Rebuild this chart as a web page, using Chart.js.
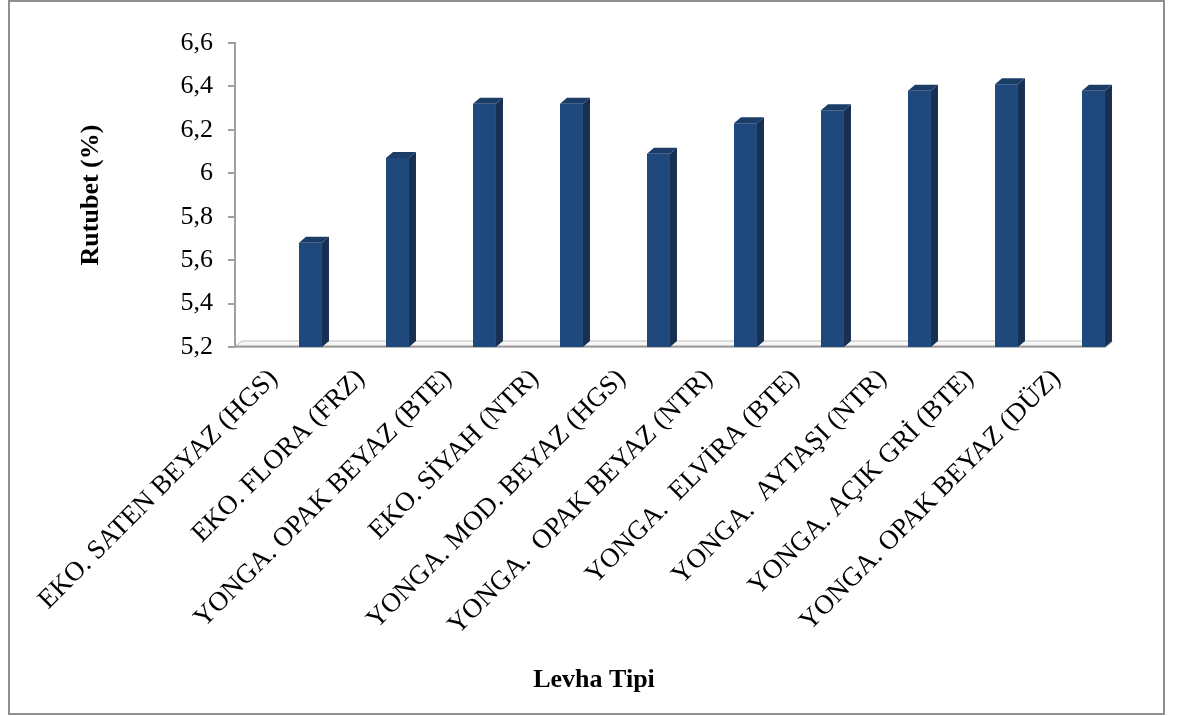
<!DOCTYPE html>
<html lang="tr">
<head>
    <meta charset="UTF-8">
    <title>Levha Tipine Göre Rutubet</title>
    <script src="https://cdn.jsdelivr.net/npm/chart.js"></script>
    <style>
        body {
            margin: 0;
            background: #fff;
        }
        #grafikKutusu {
            width: 1181px;
            height: 716px;
        }
    </style>
</head>
<body>
    <div id="grafikKutusu">
        <canvas id="rutubetGrafik" width="1181" height="716"></canvas>
    </div>

    <script>
        const levhaTipleri = [
            'EKO. SATEN BEYAZ (HGS)',
            'EKO. FLORA (FRZ)',
            'YONGA. OPAK BEYAZ (BTE)',
            'EKO. SİYAH (NTR)',
            'YONGA. MOD. BEYAZ (HGS)',
            'YONGA.  OPAK BEYAZ (NTR)',
            'YONGA.  ELVİRA (BTE)',
            'YONGA.  AYTAŞI (NTR)',
            'YONGA. AÇIK GRİ (BTE)',
            'YONGA. OPAK BEYAZ (DÜZ)'
        ];

        // rutubet (%) değerleri
        const rutubet = [5.68, 6.07, 6.32, 6.32, 6.09, 6.23, 6.29, 6.38, 6.41, 6.38];

        // Excel'deki boş ilk seri: kümede yer tutar, çubuk çizmez
        const bosSeri = [null, null, null, null, null, null, null, null, null, null];

        const eksenMin = 5.2;
        const eksenMax = 6.6;
        const eksenAdim = 0.2;

        const yaziTipi = "'Liberation Serif', 'Times New Roman', serif";
        const onRenk = '#1f497d';
        const yanRenk = '#172f52';
        const ustRenk = '#1b3d68';
        const derinlikX = 7;
        const derinlikY = 6;

        // çerçeve ve arka plan
        const cerceve = {
            id: 'cerceve',
            beforeDraw(chart) {
                const ctx = chart.ctx;
                ctx.save();
                ctx.fillStyle = '#fff';
                ctx.fillRect(0, 0, chart.width, chart.height);
                ctx.strokeStyle = '#8f8f8f';
                ctx.lineWidth = 2;
                ctx.strokeRect(9, 1, 1155, 713);
                ctx.restore();
            }
        };

        // 3B taban
        const taban = {
            id: 'taban',
            beforeDatasetsDraw(chart) {
                const ctx = chart.ctx;
                const area = chart.chartArea;
                const y0 = chart.scales.y.getPixelForValue(eksenMin);
                ctx.save();
                ctx.beginPath();
                ctx.moveTo(area.left, y0);
                ctx.lineTo(area.right, y0);
                ctx.lineTo(area.right + derinlikX, y0 - derinlikY);
                ctx.lineTo(area.left + derinlikX, y0 - derinlikY);
                ctx.closePath();
                ctx.fillStyle = '#f7f7f7';
                ctx.fill();
                ctx.strokeStyle = '#bdbdbd';
                ctx.lineWidth = 1;
                ctx.stroke();
                ctx.beginPath();
                ctx.moveTo(area.left, y0 - 0.5);
                ctx.lineTo(area.right, y0 - 0.5);
                ctx.lineTo(area.right + derinlikX, y0 - derinlikY);
                ctx.strokeStyle = '#9a9a9a';
                ctx.lineWidth = 2;
                ctx.stroke();
                ctx.restore();
            }
        };

        // çubukların yan ve üst yüzleri
        const ucBoyut = {
            id: 'ucBoyut',
            afterDatasetsDraw(chart) {
                const ctx = chart.ctx;
                const meta = chart.getDatasetMeta(1);
                const alt = chart.scales.y.getPixelForValue(eksenMin);
                ctx.save();
                meta.data.forEach(cubuk => {
                    const sol = cubuk.x - cubuk.width / 2;
                    const sag = cubuk.x + cubuk.width / 2;
                    const ust = cubuk.y;

                    ctx.beginPath();
                    ctx.moveTo(sag, ust);
                    ctx.lineTo(sag + derinlikX, ust - derinlikY);
                    ctx.lineTo(sag + derinlikX, alt - derinlikY);
                    ctx.lineTo(sag, alt);
                    ctx.closePath();
                    ctx.fillStyle = yanRenk;
                    ctx.fill();

                    ctx.beginPath();
                    ctx.moveTo(sol, ust);
                    ctx.lineTo(sol + derinlikX, ust - derinlikY);
                    ctx.lineTo(sag + derinlikX, ust - derinlikY);
                    ctx.lineTo(sag, ust);
                    ctx.closePath();
                    ctx.fillStyle = ustRenk;
                    ctx.fill();
                });
                ctx.restore();
            }
        };

        // yatay eksen başlığı
        const eksenBasligi = {
            id: 'eksenBasligi',
            afterDraw(chart) {
                const ctx = chart.ctx;
                ctx.save();
                ctx.font = 'bold 26px ' + yaziTipi;
                ctx.fillStyle = '#000';
                ctx.textAlign = 'center';
                ctx.textBaseline = 'middle';
                ctx.fillText('Levha Tipi', 594, 680);
                ctx.restore();
            }
        };

        const ctx = document.getElementById('rutubetGrafik').getContext('2d');

        const chart = new Chart(ctx, {
            type: 'bar',
            data: {
                labels: levhaTipleri,
                datasets: [
                    {
                        label: '',
                        data: bosSeri,
                        backgroundColor: onRenk
                    },
                    {
                        label: 'Rutubet (%)',
                        data: rutubet,
                        backgroundColor: onRenk,
                        borderWidth: 0
                    }
                ]
            },
            options: {
                responsive: false,
                animation: false,
                categoryPercentage: 1.471,
                barPercentage: 0.359,
                layout: {
                    padding: { left: 8, right: 76, top: 43, bottom: 4 }
                },
                scales: {
                    x: {
                        grid: { display: false, drawTicks: false },
                        border: { display: false },
                        ticks: {
                            autoSkip: false,
                            minRotation: 45,
                            maxRotation: 45,
                            padding: 16,
                            labelOffset: -5,
                            color: '#000',
                            font: { family: yaziTipi, size: 27 }
                        },
                        afterFit(scale) {
                            scale.height = 365;
                            scale.paddingLeft = 0;
                            scale.paddingRight = 0;
                        }
                    },
                    y: {
                        min: eksenMin,
                        max: eksenMax,
                        grid: {
                            drawOnChartArea: false,
                            drawTicks: true,
                            tickLength: 7,
                            color: '#a0a0a0',
                            lineWidth: 2
                        },
                        border: { display: true, color: '#a0a0a0', width: 2 },
                        ticks: {
                            stepSize: eksenAdim,
                            padding: 15,
                            color: '#000',
                            font: { family: yaziTipi, size: 26 },
                            callback: value => String(Math.round(value * 10) / 10).replace('.', ',')
                        },
                        title: {
                            display: true,
                            text: 'Rutubet (%)',
                            color: '#000',
                            font: { family: yaziTipi, size: 26, weight: 'bold' },
                            padding: { top: 68 }
                        },
                        afterFit(scale) {
                            scale.width = 227;
                        }
                    }
                },
                plugins: {
                    legend: { display: false },
                    tooltip: { enabled: false }
                }
            },
            plugins: [cerceve, taban, ucBoyut, eksenBasligi]
        });
    </script>
</body>
</html>
